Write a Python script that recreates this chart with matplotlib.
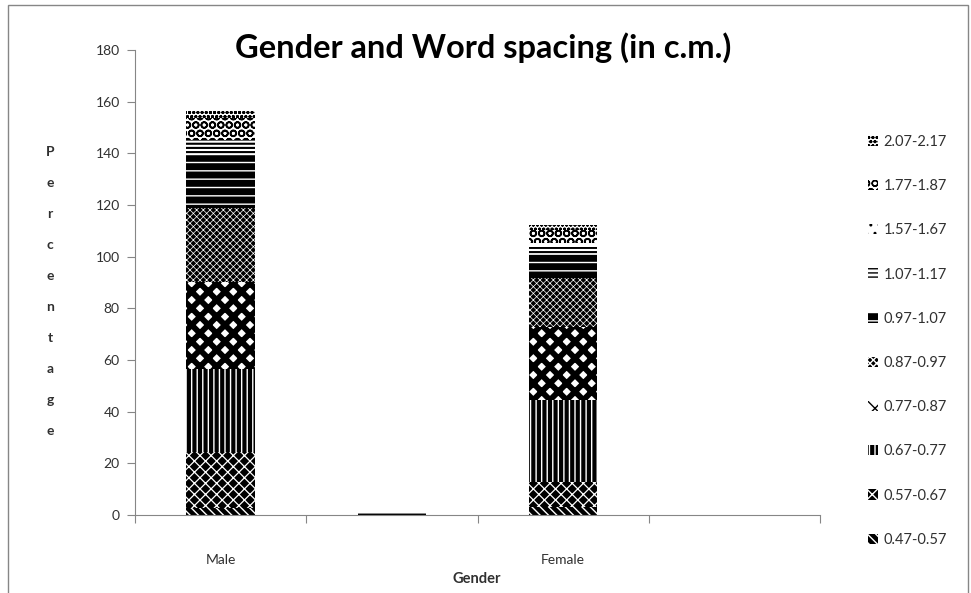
import numpy as np
import matplotlib as mpl
import matplotlib.pyplot as plt
from matplotlib.patches import Rectangle

# categories on the x axis (Excel left blank slots between them)
categories = ["Male", "", "Female", ""]

# word spacing classes, bottom of stack first
classes = ["0.47-0.57", "0.57-0.67", "0.67-0.77", "0.77-0.87", "0.87-0.97",
           "0.97-1.07", "1.07-1.17", "1.57-1.67", "1.77-1.87", "2.07-2.17"]

# percentages per class for Male, blank, Female, blank
s047 = [2.7, 0, 3.0, 0]
s057 = [21.7, 0, 9.9, 0]
s067 = [32.1, 0, 31.6, 0]
s077 = [33.7, 0, 28.4, 0]
s087 = [28.7, 0, 18.7, 0]
s097 = [19.7, 0, 9.4, 0]
s107 = [6.6, 1.0, 2.9, 0]
s157 = [0, 0, 1.3, 0]
s177 = [8.5, 0, 5.1, 0]
s207 = [3.1, 0, 2.0, 0]
series = [s047, s057, s067, s077, s087, s097, s107, s157, s177, s207]

yticks = [0, 20, 40, 60, 80, 100, 120, 140, 160, 180]

# (face, hatch colour, hatch, hatch width) per class
styles = [
    ("black", "white", "\\\\\\\\", 1.0),
    ("black", "white", "xxx", 0.9),
    ("black", "white", "|||", 1.0),
    ("white", "black", "xx", 4.2),
    ("black", "white", "xxxxx", 0.5),
    ("black", "white", "--", 1.0),
    ("white", "black", "----", 1.5),
    ("white", "black", "..", 0.8),
    ("white", "black", "OO", 1.2),
    ("white", "black", "oooo", 1.0),
]

plt.rcParams["font.family"] = ["Lato", "DejaVu Sans"]

fig = plt.figure(figsize=(9.71, 5.93), dpi=100)
ax = fig.add_axes([135 / 971, 1 - 515 / 593, 685 / 971, 465 / 593])

x = np.arange(len(categories)) + 0.5
bottom = np.zeros(len(categories))
handles = []
for name, vals, (fc, hc, h, hw) in zip(classes, series, styles):
    vals = np.array(vals, dtype=float)
    with mpl.rc_context({"hatch.linewidth": hw}):
        b = ax.bar(x, vals, width=0.4, bottom=bottom, facecolor=fc, edgecolor=hc,
                   hatch=h, linewidth=0, label=name)
    handles.append(b)
    bottom += vals

ax.set_xlim(0, 4)
ax.set_ylim(0, 180)
ax.set_yticks(yticks)
ax.set_xticks([0, 1, 2, 3, 4])
ax.set_xticklabels([])
ax.set_xticks(x, minor=True)
ax.set_xticklabels(categories, minor=True)
ax.tick_params(axis="x", which="major", direction="out", length=6, color="#868686")
ax.tick_params(axis="x", which="minor", length=0, pad=28, labelsize=10, labelcolor="#303030")
ax.tick_params(axis="y", direction="out", length=6, color="#868686", labelsize=10,
               labelcolor="#303030", pad=5)
for side in ["top", "right"]:
    ax.spines[side].set_visible(False)
for side in ["left", "bottom"]:
    ax.spines[side].set_color("#868686")

fig.text(483 / 971, 1 - 48 / 593, "Gender and Word spacing (in c.m.)", ha="center",
         va="center", fontsize=23.5, fontweight="bold")
fig.text(477 / 971, 1 - 579 / 593, "Gender", ha="center", va="center",
         fontsize=10.5, fontweight="bold", color="#303030")
fig.text(50 / 971, 1 - 291 / 593, "\n".join("Percentage"), ha="center", va="center",
         fontsize=10, fontweight="bold", color="#303030", linespacing=2.9)

leg = fig.legend(handles[::-1], classes[::-1], loc="upper left",
                 bbox_to_anchor=(855 / 971, 1 - 122 / 593), frameon=False,
                 fontsize=10.5, handlelength=0.7, handleheight=0.7, handletextpad=0.35,
                 labelspacing=2.07, labelcolor="#303030")

fig.add_artist(Rectangle((8 / 971, -0.01), 960 / 971, 1 - 5 / 593 + 0.01,
                         transform=fig.transFigure, fill=False,
                         edgecolor="#868686", linewidth=1))

fig.savefig("out.png", dpi=100)
